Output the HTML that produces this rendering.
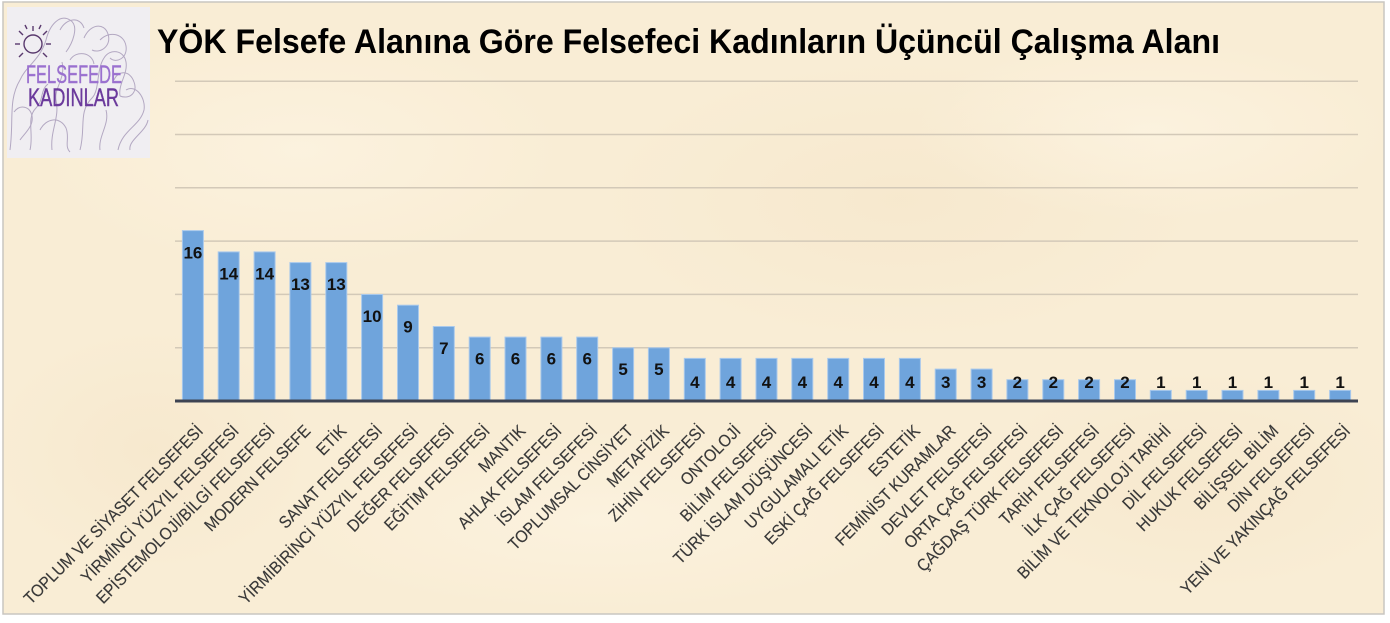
<!DOCTYPE html>
<html>
<head>
<meta charset="utf-8">
<style>
  html,body{margin:0;padding:0;background:#ffffff;}
  svg{display:block;}
  .lbl{font-family:"Liberation Sans",Arial,sans-serif;font-size:17px;fill:#383838;stroke:#383838;stroke-width:0.15;}
  .val{font-family:"Liberation Sans",Arial,sans-serif;font-size:17px;font-weight:bold;fill:#111;}
</style>
</head>
<body>
<svg width="1390" height="623" viewBox="0 0 1390 623" xmlns="http://www.w3.org/2000/svg">
  <defs>
    <radialGradient id="m1" cx="50%" cy="50%" r="50%">
      <stop offset="0" stop-color="#f3e2c4" stop-opacity="0.4"/>
      <stop offset="1" stop-color="#f3e2c4" stop-opacity="0"/>
    </radialGradient>
    <radialGradient id="m2" cx="50%" cy="50%" r="50%">
      <stop offset="0" stop-color="#fdf5e4" stop-opacity="0.6"/>
      <stop offset="1" stop-color="#fdf5e4" stop-opacity="0"/>
    </radialGradient>
  </defs>

  <!-- parchment background -->
  <rect x="3" y="2" width="1381" height="612" fill="#f9edd5" stroke="#c9c6c0" stroke-width="1.5"/>
  <ellipse cx="300" cy="150" rx="260" ry="120" fill="url(#m2)"/>
  <ellipse cx="900" cy="200" rx="300" ry="140" fill="url(#m1)"/>
  <ellipse cx="600" cy="520" rx="320" ry="90" fill="url(#m2)"/>
  <ellipse cx="1200" cy="480" rx="220" ry="110" fill="url(#m1)"/>
  <ellipse cx="150" cy="450" rx="160" ry="120" fill="url(#m1)"/>
  <ellipse cx="1150" cy="130" rx="240" ry="90" fill="url(#m2)"/>

  <!-- logo -->
  <rect x="7" y="7" width="143" height="151" fill="#f0eef2"/>
  <g fill="none" stroke="#b3a8c2" stroke-width="1">
    <path d="M10 150 C 14 120, 8 100, 20 80 C 26 66, 40 60, 46 40 C 50 24, 60 14, 70 20 C 80 26, 72 44, 66 52"/>
    <path d="M52 150 C 50 130, 60 118, 56 100 C 54 88, 66 78, 62 62"/>
    <path d="M80 150 C 86 128, 78 112, 92 98 C 100 90, 96 70, 104 58 C 110 48, 124 50, 126 62 C 128 74, 118 84, 120 96"/>
    <path d="M84 38 C 90 24, 104 22, 108 34 C 112 46, 100 54, 92 50"/>
    <path d="M118 150 C 122 130, 140 126, 144 110 C 146 98, 136 84, 126 90"/>
    <path d="M30 150 C 34 134, 26 118, 36 108 C 44 100, 40 90, 48 84"/>
    <path d="M100 150 C 98 136, 110 124, 106 110"/>
    <path d="M60 30 C 66 18, 80 16, 84 28"/>
    <path d="M130 150 C 128 140, 146 132, 148 120"/>
    <path d="M14 112 C 20 104, 30 106, 32 116 C 34 126, 24 134, 20 140"/>
    <path d="M120 96 C 130 100, 138 92, 134 82 C 130 70, 118 70, 114 80"/>
    <path d="M100 40 C 110 30, 124 34, 126 46 C 128 58, 116 64, 110 58"/>
    <path d="M40 130 C 46 118, 60 116, 66 128 C 70 138, 64 146, 70 152"/>
    <path d="M70 60 C 76 50, 92 52, 94 64"/>
  </g>
  <!-- sun -->
  <g stroke="#5a3a6e" stroke-width="1.4" fill="none">
    <circle cx="33" cy="44" r="9"/>
    <line x1="33" y1="31" x2="33" y2="26"/>
    <line x1="23" y1="35" x2="19" y2="31"/>
    <line x1="43" y1="35" x2="47" y2="31"/>
    <line x1="20" y1="44" x2="15" y2="44"/>
    <line x1="46" y1="44" x2="51" y2="44"/>
    <line x1="23" y1="53" x2="19" y2="57"/>
    <line x1="43" y1="53" x2="47" y2="57"/>
    <line x1="27" y1="29" x2="25" y2="25"/>
    <line x1="39" y1="29" x2="41" y2="25"/>
  </g>
  <text x="26" y="83" font-family="'Liberation Sans',sans-serif" font-size="25" fill="#9a70cf" stroke="#9a70cf" stroke-width="0.4" textLength="96" lengthAdjust="spacingAndGlyphs">FELSEFEDE</text>
  <text x="28" y="106" font-family="'Liberation Sans',sans-serif" font-size="25" fill="#6b3a9c" stroke="#6b3a9c" stroke-width="0.4" textLength="91" lengthAdjust="spacingAndGlyphs">KADINLAR</text>

  <!-- title -->
  <text x="157" y="53" font-family="'Liberation Sans',sans-serif" font-size="34" font-weight="bold" fill="#000" textLength="1063" lengthAdjust="spacingAndGlyphs">YÖK Felsefe Alanına Göre Felsefeci Kadınların Üçüncül Çalışma Alanı</text>

  <!-- gridlines -->
  <g stroke="#d3c9b8" stroke-width="1.5">
    <line x1="175" y1="81.2" x2="1358" y2="81.2"/>
    <line x1="175" y1="134.5" x2="1358" y2="134.5"/>
    <line x1="175" y1="187.8" x2="1358" y2="187.8"/>
    <line x1="175" y1="241.1" x2="1358" y2="241.1"/>
    <line x1="175" y1="294.4" x2="1358" y2="294.4"/>
    <line x1="175" y1="347.7" x2="1358" y2="347.7"/>
  </g>

  <g fill="#6fa4dc" stroke="#a9c9ec" stroke-width="1">
    <rect x="182.4" y="230.6" width="21" height="170.4"/>
    <rect x="218.2" y="251.9" width="21" height="149.1"/>
    <rect x="254.1" y="251.9" width="21" height="149.1"/>
    <rect x="289.9" y="262.6" width="21" height="138.4"/>
    <rect x="325.8" y="262.6" width="21" height="138.4"/>
    <rect x="361.6" y="294.5" width="21" height="106.5"/>
    <rect x="397.5" y="305.2" width="21" height="95.8"/>
    <rect x="433.3" y="326.5" width="21" height="74.5"/>
    <rect x="469.2" y="337.1" width="21" height="63.9"/>
    <rect x="505.0" y="337.1" width="21" height="63.9"/>
    <rect x="540.9" y="337.1" width="21" height="63.9"/>
    <rect x="576.7" y="337.1" width="21" height="63.9"/>
    <rect x="612.6" y="347.8" width="21" height="53.2"/>
    <rect x="648.4" y="347.8" width="21" height="53.2"/>
    <rect x="684.3" y="358.4" width="21" height="42.6"/>
    <rect x="720.1" y="358.4" width="21" height="42.6"/>
    <rect x="756.0" y="358.4" width="21" height="42.6"/>
    <rect x="791.8" y="358.4" width="21" height="42.6"/>
    <rect x="827.7" y="358.4" width="21" height="42.6"/>
    <rect x="863.5" y="358.4" width="21" height="42.6"/>
    <rect x="899.4" y="358.4" width="21" height="42.6"/>
    <rect x="935.2" y="369.1" width="21" height="31.9"/>
    <rect x="971.1" y="369.1" width="21" height="31.9"/>
    <rect x="1006.9" y="379.7" width="21" height="21.3"/>
    <rect x="1042.8" y="379.7" width="21" height="21.3"/>
    <rect x="1078.6" y="379.7" width="21" height="21.3"/>
    <rect x="1114.5" y="379.7" width="21" height="21.3"/>
    <rect x="1150.3" y="390.4" width="21" height="10.6"/>
    <rect x="1186.2" y="390.4" width="21" height="10.6"/>
    <rect x="1222.0" y="390.4" width="21" height="10.6"/>
    <rect x="1257.9" y="390.4" width="21" height="10.6"/>
    <rect x="1293.7" y="390.4" width="21" height="10.6"/>
    <rect x="1329.6" y="390.4" width="21" height="10.6"/>
  </g>
  <line x1="175" y1="401" x2="1358" y2="401" stroke="#3d4352" stroke-width="3"/>

  <g class="val" text-anchor="middle">
    <text x="192.9" y="258.5">16</text>
    <text x="228.7" y="279.5">14</text>
    <text x="264.6" y="279.5">14</text>
    <text x="300.4" y="290">13</text>
    <text x="336.3" y="290">13</text>
    <text x="372.1" y="322">10</text>
    <text x="408.0" y="332.5">9</text>
    <text x="443.8" y="354">7</text>
    <text x="479.7" y="364.5">6</text>
    <text x="515.5" y="364.5">6</text>
    <text x="551.4" y="364.5">6</text>
    <text x="587.2" y="364.5">6</text>
    <text x="623.1" y="375">5</text>
    <text x="658.9" y="375">5</text>
    <text x="694.8" y="388">4</text>
    <text x="730.6" y="388">4</text>
    <text x="766.5" y="388">4</text>
    <text x="802.3" y="388">4</text>
    <text x="838.2" y="388">4</text>
    <text x="874.0" y="388">4</text>
    <text x="909.9" y="388">4</text>
    <text x="945.7" y="388">3</text>
    <text x="981.6" y="388">3</text>
    <text x="1017.4" y="388">2</text>
    <text x="1053.3" y="388">2</text>
    <text x="1089.1" y="388">2</text>
    <text x="1125.0" y="388">2</text>
    <text x="1160.8" y="388">1</text>
    <text x="1196.7" y="388">1</text>
    <text x="1232.5" y="388">1</text>
    <text x="1268.4" y="388">1</text>
    <text x="1304.2" y="388">1</text>
    <text x="1340.1" y="388">1</text>
  </g>

  <g class="lbl" text-anchor="end">
    <text transform="translate(204 432) rotate(-45) scale(0.91 1)">TOPLUM VE SİYASET FELSEFESİ</text>
    <text transform="translate(239.8 432) rotate(-45) scale(0.91 1)">YİRMİNCİ YÜZYIL FELSEFESİ</text>
    <text transform="translate(275.7 432) rotate(-45) scale(0.91 1)">EPİSTEMOLOJİ/BİLGİ FELSEFESİ</text>
    <text transform="translate(311.5 432) rotate(-45) scale(0.91 1)">MODERN FELSEFE</text>
    <text transform="translate(347.4 432) rotate(-45) scale(0.91 1)">ETİK</text>
    <text transform="translate(383.2 432) rotate(-45) scale(0.91 1)">SANAT FELSEFESİ</text>
    <text transform="translate(419.1 432) rotate(-45) scale(0.91 1)">YİRMİBİRİNCİ YÜZYIL FELSEFESİ</text>
    <text transform="translate(454.9 432) rotate(-45) scale(0.91 1)">DEĞER FELSEFESİ</text>
    <text transform="translate(490.8 432) rotate(-45) scale(0.91 1)">EĞİTİM FELSEFESİ</text>
    <text transform="translate(526.6 432) rotate(-45) scale(0.91 1)">MANTIK</text>
    <text transform="translate(562.5 432) rotate(-45) scale(0.91 1)">AHLAK FELSEFESİ</text>
    <text transform="translate(598.3 432) rotate(-45) scale(0.91 1)">İSLAM FELSEFESİ</text>
    <text transform="translate(634.2 432) rotate(-45) scale(0.91 1)">TOPLUMSAL CİNSİYET</text>
    <text transform="translate(670.0 432) rotate(-45) scale(0.91 1)">METAFİZİK</text>
    <text transform="translate(705.9 432) rotate(-45) scale(0.91 1)">ZİHİN FELSEFESİ</text>
    <text transform="translate(741.7 432) rotate(-45) scale(0.91 1)">ONTOLOJİ</text>
    <text transform="translate(777.6 432) rotate(-45) scale(0.91 1)">BİLİM FELSEFESİ</text>
    <text transform="translate(813.4 432) rotate(-45) scale(0.91 1)">TÜRK İSLAM DÜŞÜNCESİ</text>
    <text transform="translate(849.3 432) rotate(-45) scale(0.91 1)">UYGULAMALI ETİK</text>
    <text transform="translate(885.1 432) rotate(-45) scale(0.91 1)">ESKİ ÇAĞ FELSEFESİ</text>
    <text transform="translate(921.0 432) rotate(-45) scale(0.91 1)">ESTETİK</text>
    <text transform="translate(956.8 432) rotate(-45) scale(0.91 1)">FEMİNİST KURAMLAR</text>
    <text transform="translate(992.7 432) rotate(-45) scale(0.91 1)">DEVLET FELSEFESİ</text>
    <text transform="translate(1028.5 432) rotate(-45) scale(0.91 1)">ORTA ÇAĞ FELSEFESİ</text>
    <text transform="translate(1064.4 432) rotate(-45) scale(0.91 1)">ÇAĞDAŞ TÜRK FELSEFESİ</text>
    <text transform="translate(1100.2 432) rotate(-45) scale(0.91 1)">TARİH FELSEFESİ</text>
    <text transform="translate(1136.1 432) rotate(-45) scale(0.91 1)">İLK ÇAĞ FELSEFESİ</text>
    <text transform="translate(1171.9 432) rotate(-45) scale(0.91 1)">BİLİM VE TEKNOLOJİ TARİHİ</text>
    <text transform="translate(1207.8 432) rotate(-45) scale(0.91 1)">DİL FELSEFESİ</text>
    <text transform="translate(1243.6 432) rotate(-45) scale(0.91 1)">HUKUK FELSEFESİ</text>
    <text transform="translate(1279.5 432) rotate(-45) scale(0.91 1)">BİLİŞSEL BİLİM</text>
    <text transform="translate(1315.3 432) rotate(-45) scale(0.91 1)">DİN FELSEFESİ</text>
    <text transform="translate(1351.2 432) rotate(-45) scale(0.91 1)">YENİ VE YAKINÇAĞ FELSEFESİ</text>
  </g>
</svg>
</body>
</html>
